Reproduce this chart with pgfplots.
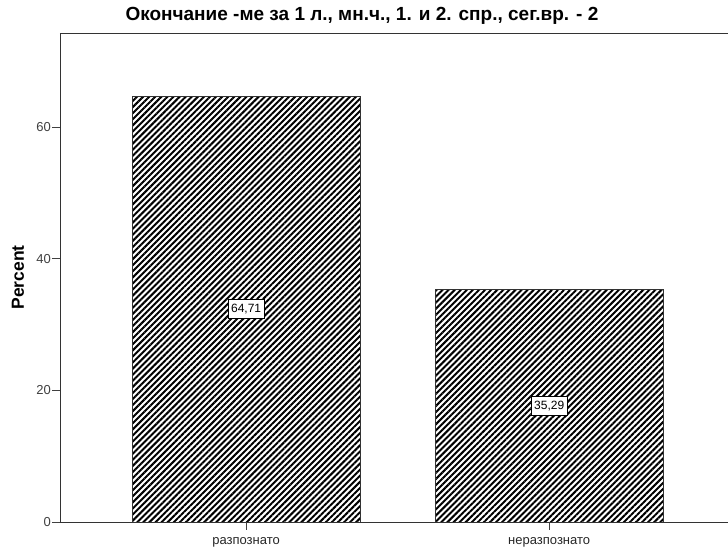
\documentclass[border=0pt]{standalone}
\usepackage{fontspec}
\setmainfont{Liberation Sans}
\usepackage{pgfplots}
\pgfplotsset{compat=1.18}
\usetikzlibrary{patterns.meta}
\begin{document}
\begin{tikzpicture}
\begin{axis}[
  scale only axis, width=668pt, height=489pt,
  xmin=-0.614, xmax=1.59, ymin=0, ymax=74.3,
  clip=false,
  axis x line*=bottom, axis y line*=left,
  axis line style={draw=black!80, line width=0.9pt, -},
  xtick={0,1}, xticklabels={разпознато,неразпознато},
  ytick={0,20,40,60},
  tick align=outside, major tick length=8pt,
  tick style={draw=black!75, line width=0.8pt},
  /pgf/number format/assume math mode=true,
  xticklabel style={font=\fontsize{13}{15}\selectfont, text=black!85, yshift=-4pt},
  yticklabel style={font=\fontsize{13}{15}\selectfont, text=black!75, inner sep=1pt},
  title={Окончание -ме за 1 л., мн.ч., 1. и 2. спр., сег.вр. - 2},
  title style={font=\bfseries\fontsize{19}{21}\selectfont, at={(axis description cs:0.452,1)}, anchor=base, yshift=6pt},
  ylabel={Percent},
  ylabel style={font=\bfseries\fontsize{17.5}{19}\selectfont, at={(axis description cs:-0.063,0.5)}, anchor=center},
]
\addplot[ybar, bar width=0.752, draw=black!80, line width=0.7pt,
  pattern={Lines[angle=45,distance=4.3pt,line width=2pt]}, pattern color=black]
  coordinates {(0,64.71) (1,35.29)};
\addplot[draw=none, mark=none, nodes near coords, point meta=explicit symbolic,
  every node near coord/.append style={anchor=center, fill=white, draw=black, line width=0.7pt, inner xsep=3pt, inner ysep=4.5pt, text=black, font=\fontsize{12}{13}\selectfont}]
  table[meta=label] {
x y label
0 32.355 64,71
1 17.645 35,29
};
\draw[black!80, line width=0.9pt] (rel axis cs:0,1) -- (rel axis cs:1,1);
\end{axis}
\pgfresetboundingbox
\path ([shift={(-60pt,-28pt)}]current axis.south west) rectangle ([shift={(0pt,33pt)}]current axis.north east);
\end{tikzpicture}
\end{document}
